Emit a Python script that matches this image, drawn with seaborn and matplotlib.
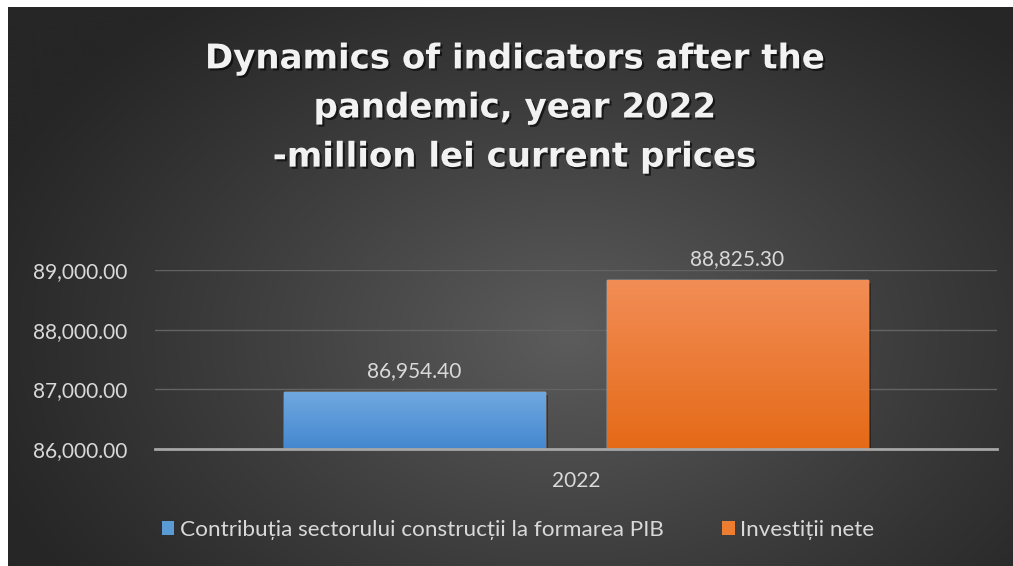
import numpy as np
import pandas as pd
import seaborn as sns
import matplotlib.pyplot as plt
import matplotlib.patheffects as pe
from matplotlib.colors import LinearSegmentedColormap
from matplotlib.patches import Patch

# data
years = ["2022"]
series = ["Contribuția sectorului construcții la formarea PIB", "Investiții nete"]
values = [86954.40, 88825.30]
yticks = [86000, 87000, 88000, 89000]

sns.set_theme(style="white")
plt.rcParams['font.family'] = ['Lato', 'DejaVu Sans']

W, H = 1013, 566
fig = plt.figure(figsize=(W / 100, H / 100), dpi=100)
fig.patch.set_facecolor("white")

# dark radial background panel
bg = fig.add_axes([8 / W, 0, 1 - 8 / W, 1 - 7 / H])
bg.set_axis_off()
yy, xx = np.mgrid[0:560, 0:1005]
r = np.sqrt(((xx - 560) / 620.0) ** 2 + ((yy - 330) / 430.0) ** 2)
t = np.clip(1 - r, 0, 1) ** 1.1
dark = np.array([0x26, 0x26, 0x26]) / 255
light = np.array([0x5c, 0x5c, 0x5c]) / 255
img = dark + (light - dark) * t[..., None]
bg.imshow(img, aspect="auto", extent=[0, 1, 0, 1], origin="upper")
bg.set_xlim(0, 1)
bg.set_ylim(0, 1)

# main axes
left, right, top, bottom = 155, 997, 270, 449
ax = fig.add_axes([left / W, 1 - bottom / H, (right - left) / W, (bottom - top) / H])
ax.patch.set_alpha(0)

df = pd.DataFrame({"year": years * len(series), "series": series, "value": values})
palette = ["#5b9bd5", "#ed7d31"]
sns.barplot(data=df, x="year", y="value", hue="series", palette=palette,
            width=0.767, gap=0.19, ax=ax, legend=False, zorder=3)

grads = [("#70a8e0", "#4487cf"), ("#f28d56", "#e56a17")]
for patch, (ctop, cbot) in zip(ax.patches, grads):
    patch.set_path_effects([pe.SimplePatchShadow(offset=(2, -2), shadow_rgbFace="black", alpha=0.35), pe.Normal()])
    x0 = patch.get_x()
    x1 = x0 + patch.get_width()
    h = patch.get_height()
    cmap = LinearSegmentedColormap.from_list("g", [cbot, ctop])
    grad = np.linspace(0, 1, 256).reshape(-1, 1)
    im = ax.imshow(grad, cmap=cmap, aspect="auto", extent=[x0, x1, 86000, h],
                   origin="lower", zorder=4)
    im.set_clip_path(patch)

ax.set_ylim(86000, 89000)
ax.set_xlim(-0.5, 0.5)

for c in ax.containers:
    ax.bar_label(c, labels=[f"{v:,.2f}" for v in c.datavalues], padding=8,
                 color="#d9d9d9", fontsize=15, zorder=5)

ax.set_yticks(yticks)
ax.set_yticklabels([f"{v:,.2f}" for v in yticks])
ax.tick_params(axis="y", length=0, pad=20, labelcolor="#d9d9d9", labelsize=15)
ax.tick_params(axis="x", length=0, pad=16, labelcolor="#d9d9d9", labelsize=15)
ax.set_xlabel("")
ax.set_ylabel("")
ax.grid(axis="y", color="#636363", linewidth=1, zorder=0)
for s in ["top", "right", "left"]:
    ax.spines[s].set_visible(False)
ax.spines["bottom"].set_color("#a6a6a6")
ax.spines["bottom"].set_linewidth(2)
ax.spines["bottom"].set_zorder(6)

# legend
handles = [Patch(facecolor=c, edgecolor="none") for c in palette]
fig.legend(handles, series, loc="center", bbox_to_anchor=(518 / W, 1 - 530 / H),
           ncol=2, frameon=False, fontsize=16.2, labelcolor="#d9d9d9",
           handlelength=0.55, handleheight=0.55, handletextpad=0.25, columnspacing=2.6)

# title
fig.text(515 / W, 1 - 108 / H,
         "Dynamics of indicators after the\npandemic, year 2022\n-million lei current prices",
         ha="center", va="center", fontsize=24.5, fontweight="bold", color="#f2f2f2",
         family=["DejaVu Sans"], linespacing=1.62,
         path_effects=[pe.SimplePatchShadow(offset=(1.5, -1.5), shadow_rgbFace="black", alpha=0.6), pe.Normal()])

fig.savefig("out.png", dpi=100)
